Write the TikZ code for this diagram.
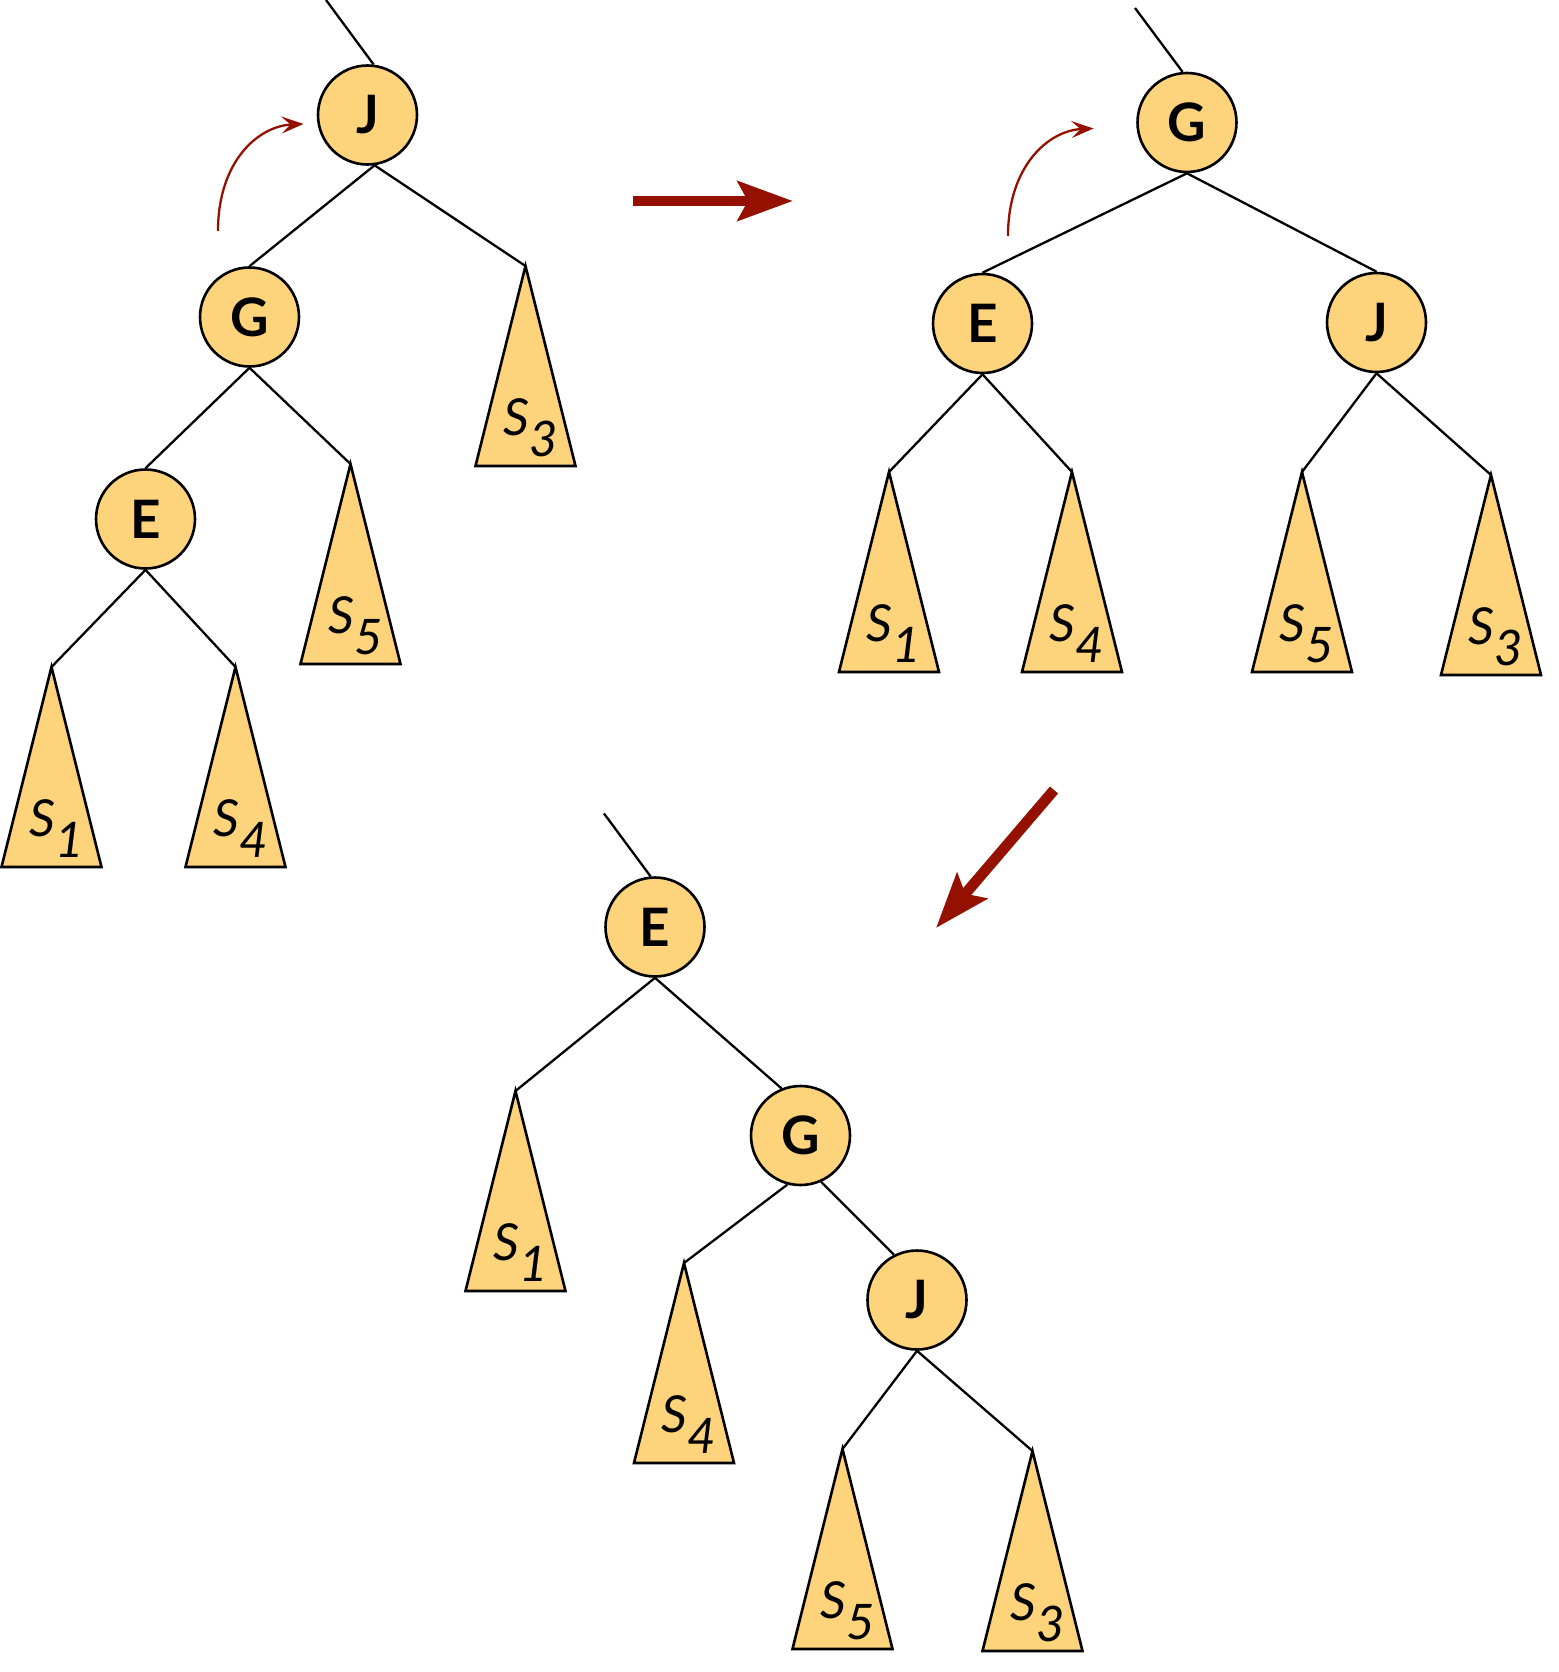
\documentclass[tikz,border=0pt]{standalone}
\usepackage{fontspec}
\setmainfont{Lato}
\usetikzlibrary{positioning,arrows.meta}

\definecolor{nodefill}{HTML}{FDD47B}
\definecolor{arrowred}{HTML}{941100}

\tikzset{
  treenode/.style={circle, draw, line width=2.6pt, fill=nodefill, minimum size=99pt,
    inner sep=0pt, font=\fontsize{53}{53}\selectfont\bfseries},
  branch/.style={line width=2.3pt},
  subtree/.style={draw, line width=2.6pt, fill=nodefill, line join=miter},
  sublabel/.style={font=\fontsize{51}{51}\selectfont\itshape, inner sep=0pt},
  movearrow/.style={arrowred, line width=10.7pt, -{Stealth[length=55pt, width=39pt, inset=10pt]}},
  rotarrow/.style={arrowred, line width=2.3pt, -{Stealth[length=22pt, width=17pt, inset=9pt]}},
}

% subtree triangle hanging from coordinate #1, labelled S_#2
\newcommand\subtree[2]{%
  \draw[subtree] (#1) -- ++(-50,200) -- ++(100,0) -- cycle;
  \node[sublabel] (#1-lab) at ([shift={(5,162)}]#1)
    {S\raisebox{-21pt}{\fontsize{49}{49}\selectfont #2}};
}

\begin{document}
\begin{tikzpicture}[x=1pt, y=-1pt, on grid]
      \useasboundingbox (0,0) rectangle (1558,1672);

      % first tree
      \node[treenode] (J1) at (367.5,115) {J};
      \node[treenode, below left=202pt and 118pt of J1] (G1) {G};
      \node[treenode, below left=202pt and 104pt of G1] (E1) {E};
      \coordinate[below right=151pt and 158pt of J1] (s3a);
      \coordinate[below right=147pt and 101pt of G1] (s5a);
      \coordinate[below left=148pt and 94pt of E1] (s1a);
      \coordinate[below right=148pt and 90pt of E1] (s4a);
      \coordinate (up1) at (326,0);

      \draw[branch] (up1) -- (J1.83);
      \draw[branch] (J1.-82) -- (G1.north);
      \draw[branch] (J1.-82) -- (s3a);
      \draw[branch] (G1.south) -- (E1.north);
      \draw[branch] (G1.south) -- (s5a);
      \draw[branch] (E1.south) -- (s1a);
      \draw[branch] (E1.south) -- (s4a);
      \subtree{s3a}{3}
      \subtree{s5a}{5}
      \subtree{s1a}{1}
      \subtree{s4a}{4}

      \coordinate (rot1s) at (218,231);
      \coordinate (rot1e) at (303.5,124);
      \draw[rotarrow] (rot1s) .. controls +(0,-70) and +(-45,2) .. (rot1e);

      % second tree
      \node[treenode] (G2) at (1187,122.5) {G};
      \node[treenode, below left=201pt and 204.5pt of G2] (E2) {E};
      \node[treenode, below right=200pt and 189.5pt of G2] (J2) {J};
      \coordinate[below left=148.5pt and 93.5pt of E2] (s1b);
      \coordinate[below right=148.5pt and 89.5pt of E2] (s4b);
      \coordinate[below left=149.5pt and 74.5pt of J2] (s5b);
      \coordinate[below right=152.5pt and 114.5pt of J2] (s3b);
      \coordinate (up2) at (1135,8);

      \draw[branch] (up2) -- (G2.95);
      \draw[branch] (G2.south) -- (E2.north);
      \draw[branch] (G2.south) -- (J2.north);
      \draw[branch] (E2.south) -- (s1b);
      \draw[branch] (E2.south) -- (s4b);
      \draw[branch] (J2.south) -- (s5b);
      \draw[branch] (J2.south) -- (s3b);
      \subtree{s1b}{1}
      \subtree{s4b}{4}
      \subtree{s5b}{5}
      \subtree{s3b}{3}

      \coordinate (rot2s) at (1008,236);
      \coordinate (rot2e) at (1093.5,128.5);
      \draw[rotarrow] (rot2s) .. controls +(0,-70) and +(-45,2) .. (rot2e);

      % third tree
      \node[treenode] (E3) at (655,927) {E};
      \node[treenode, below right=208.5pt and 145.5pt of E3] (G3) {G};
      \node[treenode, below right=164.5pt and 116.5pt of G3] (J3) {J};
      \coordinate[below left=164pt and 139.5pt of E3] (s1c);
      \coordinate[below left=127.5pt and 116.5pt of G3] (s4c);
      \coordinate[below left=149pt and 74.5pt of J3] (s5c);
      \coordinate[below right=151pt and 115.5pt of J3] (s3c);
      \coordinate (up3) at (604,813.5);

      \draw[branch] (up3) -- (E3.95);
      \draw[branch] (E3.south) -- (s1c);
      \draw[branch] (E3.south) -- (G3.112);
      \draw[branch] (G3.-105) -- (s4c);
      \draw[branch] (G3.-66) -- (J3.117);
      \draw[branch] (J3.south) -- (s5c);
      \draw[branch] (J3.south) -- (s3c);
      \subtree{s1c}{1}
      \subtree{s4c}{4}
      \subtree{s5c}{5}
      \subtree{s3c}{3}

      % rotation steps
      \coordinate (mv1s) at (633,201);
      \coordinate (mv1e) at (793,201);
      \coordinate (mv2s) at (1054,790);
      \coordinate (mv2e) at (936,928);
      \draw[movearrow] (mv1s) -- (mv1e);
      \draw[movearrow] (mv2s) -- (mv2e);
    \end{tikzpicture}
\end{document}
